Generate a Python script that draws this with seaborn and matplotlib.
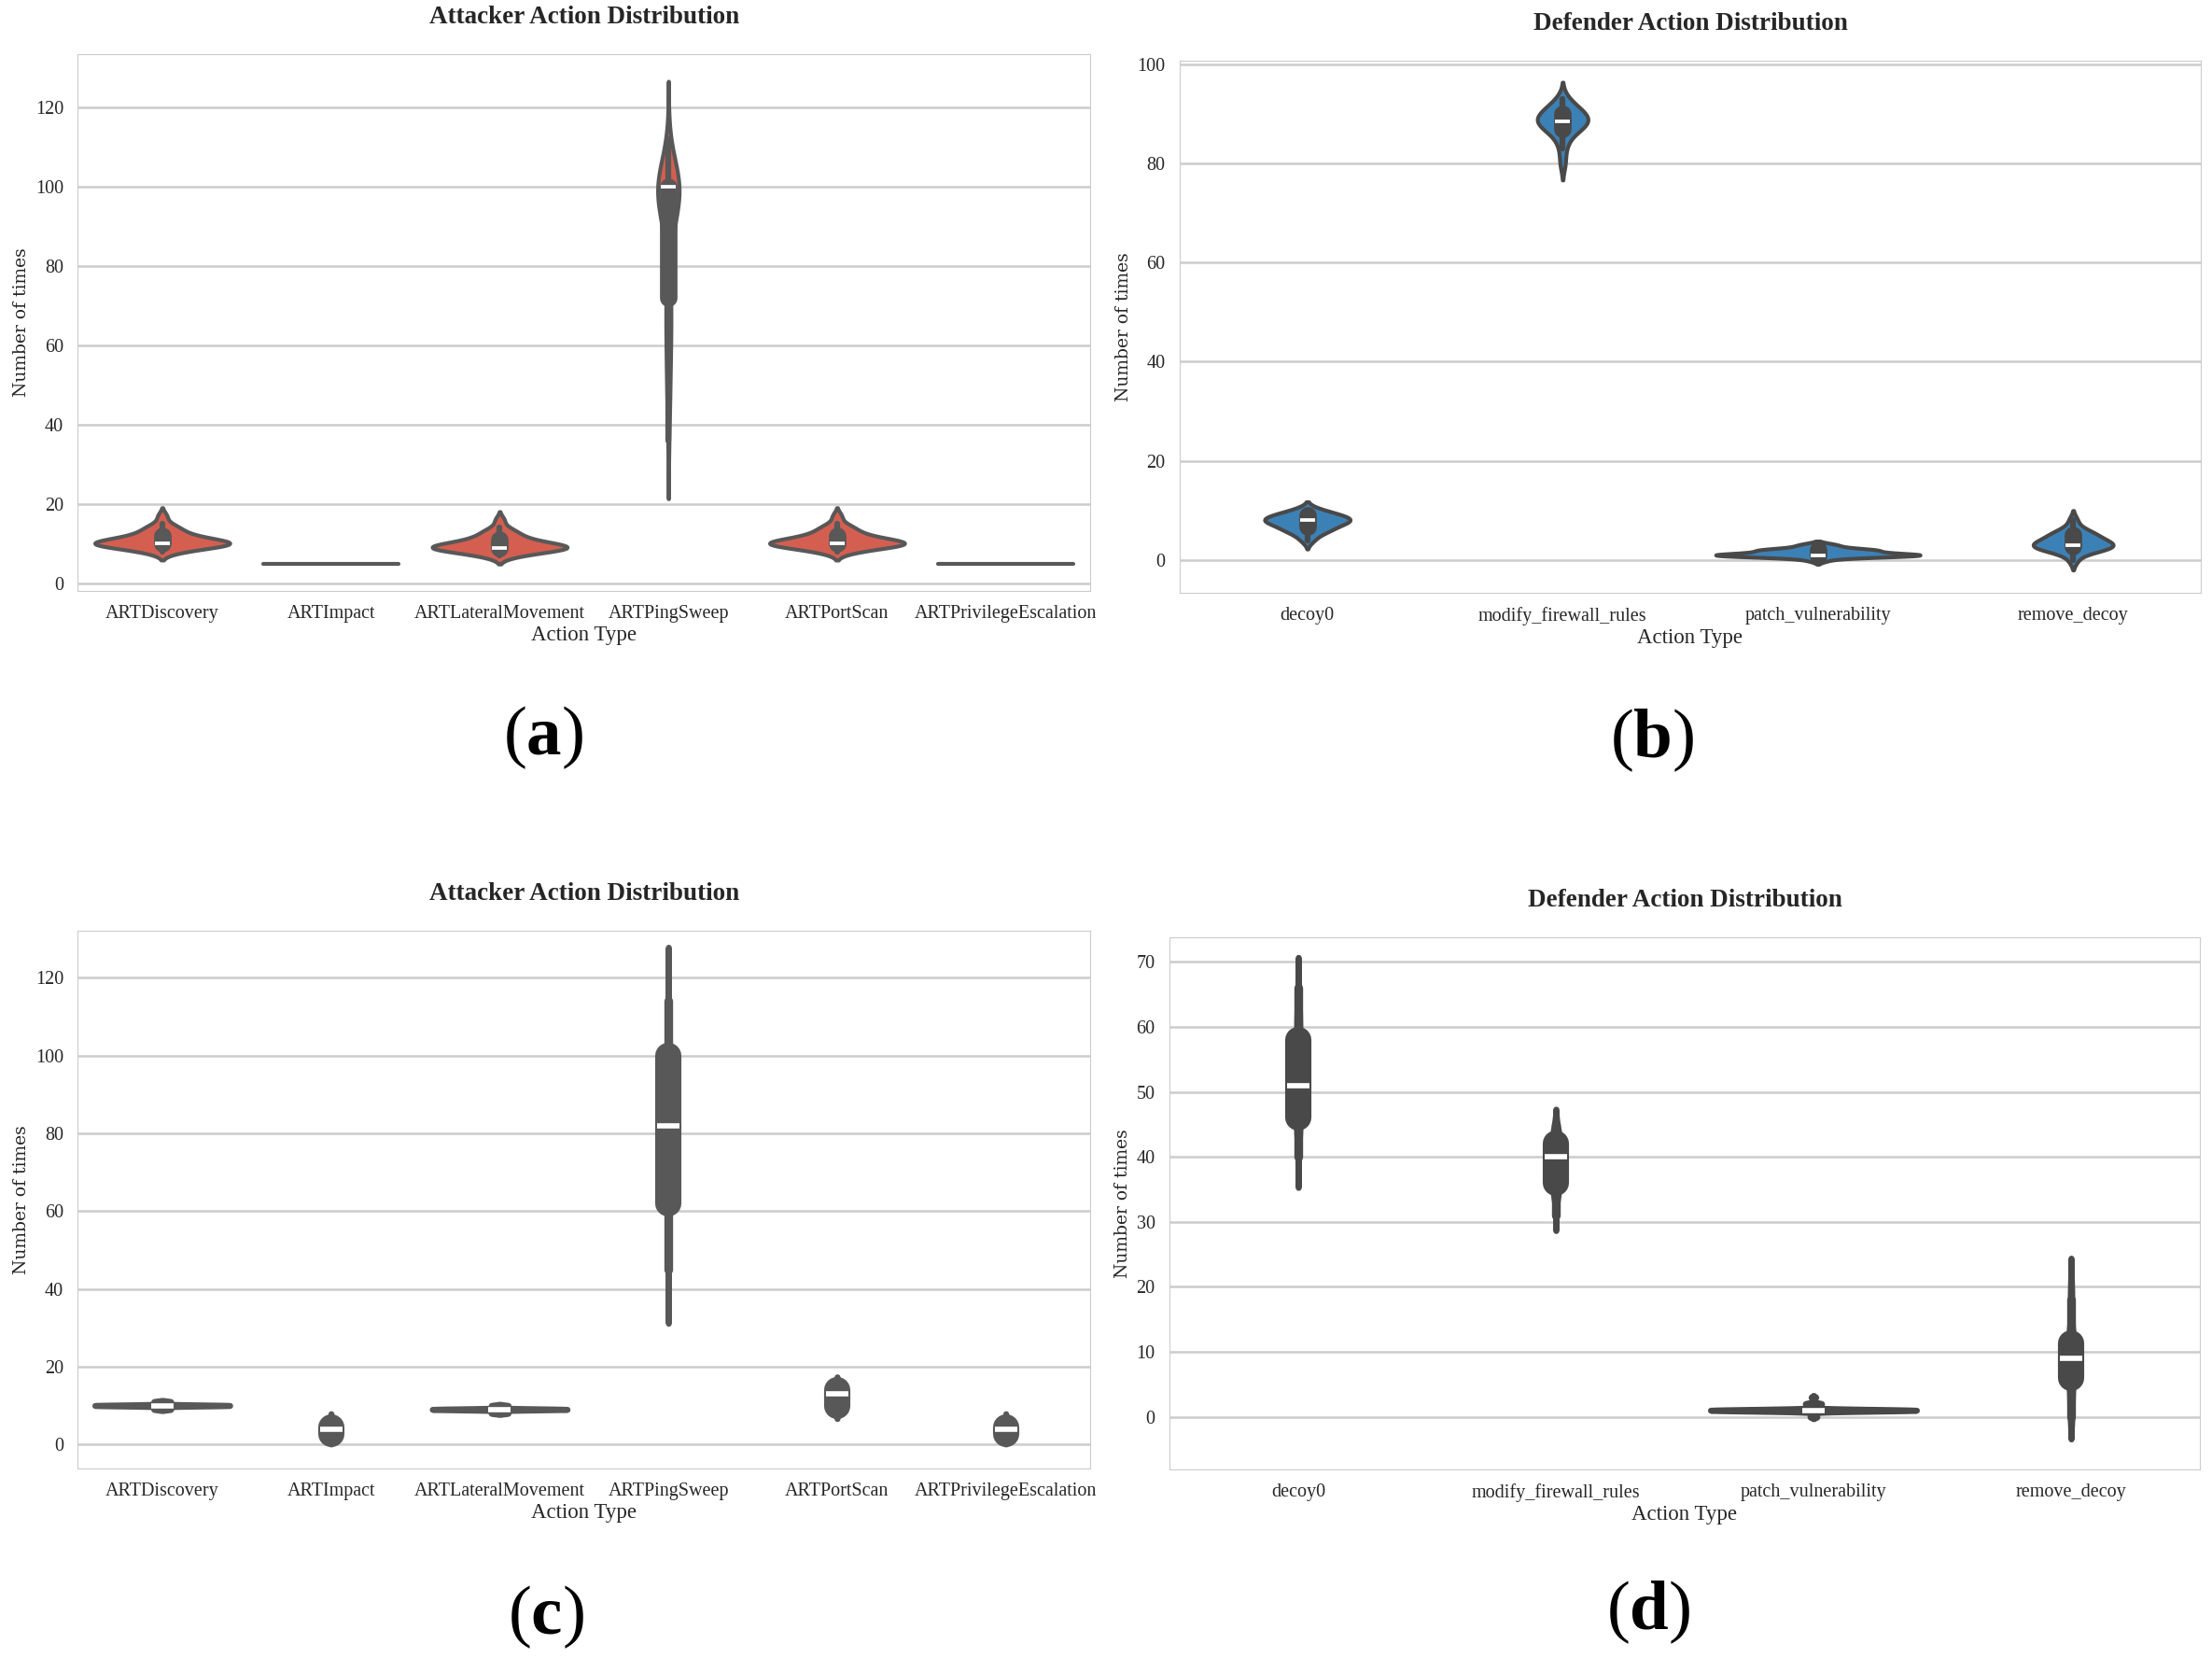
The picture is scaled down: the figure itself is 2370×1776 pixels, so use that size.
import numpy as np
import pandas as pd
import matplotlib
matplotlib.use("Agg")
import matplotlib.pyplot as plt
import seaborn as sns

# ---------------- categories ----------------
attacker_actions = ["ARTDiscovery", "ARTImpact", "ARTLateralMovement",
                    "ARTPingSweep", "ARTPortScan", "ARTPrivilegeEscalation"]
defender_actions = ["decoy0", "modify_firewall_rules",
                    "patch_vulnerability", "remove_decoy"]

# ---------------- panel (a): attacker, run 1 (value -> number of episodes) ----------------
a_discovery_vals = [8, 9, 10, 11, 12, 13, 14, 15, 17]
a_discovery_cnts = [2, 4, 10, 5, 3, 2, 2, 1, 1]
a_impact_vals = [5]
a_impact_cnts = [100]
a_lateral_vals = [7, 8, 9, 10, 11, 12, 13, 14, 16]
a_lateral_cnts = [2, 4, 10, 5, 3, 2, 2, 1, 1]
a_ping_vals = [36, 40, 44, 48, 52, 56, 60, 64, 68, 72, 80, 84, 88, 92, 96, 100, 104, 108, 112]
a_ping_cnts = [1, 1, 2, 2, 2, 3, 3, 3, 4, 5, 3, 3, 4, 5, 7, 49, 2, 1, 1]
a_portscan_vals = [8, 9, 10, 11, 12, 13, 14, 15, 17]
a_portscan_cnts = [2, 4, 10, 5, 3, 2, 2, 1, 1]
a_privesc_vals = [5]
a_privesc_cnts = [100]

# ---------------- panel (b): defender, run 1 ----------------
b_decoy_vals = [4, 5, 6, 7, 8, 9, 10]
b_decoy_cnts = [1, 1, 3, 3, 6, 4, 2]
b_firewall_vals = [80, 83, 85, 86, 87, 88, 89, 90, 91, 92, 93]
b_firewall_cnts = [1, 1, 1, 1, 2, 4, 3, 3, 2, 1, 1]
b_patch_vals = [0, 1, 2, 3]
b_patch_cnts = [1, 11, 6, 2]
b_remove_vals = [0, 2, 3, 4, 5, 6, 8]
b_remove_cnts = [1, 4, 6, 3, 3, 2, 1]

# ---------------- panel (c): attacker, run 2 ----------------
c_discovery_vals = [9, 10, 11]
c_discovery_cnts = [20, 160, 20]
c_impact_vals = [1, 2, 3, 4, 5, 6, 7]
c_impact_cnts = [10, 40, 40, 60, 40, 8, 2]
c_lateral_vals = [8, 9, 10]
c_lateral_cnts = [20, 160, 20]
c_ping_vals = [45, 50, 55, 60, 62, 65, 70, 75, 80, 82, 85, 90, 95, 100, 105, 110, 114]
c_ping_cnts = [4, 6, 12, 22, 10, 10, 10, 10, 10, 10, 12, 12, 12, 16, 20, 14, 10]
c_portscan_vals = [8, 9, 10, 11, 12, 13, 14, 15, 16]
c_portscan_cnts = [5, 15, 35, 20, 20, 45, 40, 15, 5]
c_privesc_vals = [1, 2, 3, 4, 5, 6, 7]
c_privesc_cnts = [10, 40, 40, 60, 40, 8, 2]

# ---------------- panel (d): defender, run 2 ----------------
d_decoy_vals = [40, 42, 44, 46, 48, 50, 52, 54, 56, 58, 60, 62, 64, 66]
d_decoy_cnts = [4, 8, 16, 24, 20, 28, 12, 14, 14, 14, 18, 14, 10, 4]
d_firewall_vals = [31, 33, 34, 35, 36, 37, 38, 39, 40, 41, 42, 43, 44, 45]
d_firewall_cnts = [2, 6, 10, 16, 20, 12, 12, 14, 20, 26, 24, 18, 12, 8]
d_patch_vals = [0, 1, 2, 3]
d_patch_cnts = [6, 176, 14, 4]
d_remove_vals = [0, 1, 2, 4, 5, 6, 7, 8, 9, 10, 11, 12, 14, 16, 18, 20, 21]
d_remove_cnts = [10, 6, 8, 10, 10, 10, 14, 16, 22, 20, 24, 14, 10, 9, 9, 5, 3]

# ---------------- labels ----------------
attacker_title = "Attacker Action Distribution"
defender_title = "Defender Action Distribution"
x_label = "Action Type"
y_label = "Number of times"
panel_tags = ["a", "b", "c", "d"]


def build(actions, vals_list, cnts_list):
    rows = []
    for act, vals, cnts in zip(actions, vals_list, cnts_list):
        obs = np.repeat(np.asarray(vals, float), cnts)
        rows.append(pd.DataFrame({x_label: act, y_label: obs}))
    return pd.concat(rows, ignore_index=True)


df_a = build(attacker_actions,
             [a_discovery_vals, a_impact_vals, a_lateral_vals, a_ping_vals, a_portscan_vals, a_privesc_vals],
             [a_discovery_cnts, a_impact_cnts, a_lateral_cnts, a_ping_cnts, a_portscan_cnts, a_privesc_cnts])
df_b = build(defender_actions,
             [b_decoy_vals, b_firewall_vals, b_patch_vals, b_remove_vals],
             [b_decoy_cnts, b_firewall_cnts, b_patch_cnts, b_remove_cnts])
df_c = build(attacker_actions,
             [c_discovery_vals, c_impact_vals, c_lateral_vals, c_ping_vals, c_portscan_vals, c_privesc_vals],
             [c_discovery_cnts, c_impact_cnts, c_lateral_cnts, c_ping_cnts, c_portscan_cnts, c_privesc_cnts])
df_d = build(defender_actions,
             [d_decoy_vals, d_firewall_vals, d_patch_vals, d_remove_vals],
             [d_decoy_cnts, d_firewall_cnts, d_patch_cnts, d_remove_cnts])

# ---------------- style ----------------
sns.set_theme(style="whitegrid")
plt.rcParams["font.family"] = ["Liberation Serif", "DejaVu Serif"]
plt.rcParams["mathtext.fontset"] = "custom"
plt.rcParams["mathtext.rm"] = "Liberation Serif"
plt.rcParams["mathtext.bf"] = "Liberation Serif:bold"

RED = "#d45f50"
BLUE = "#3c81b6"

fig = plt.figure(figsize=(23.7, 17.76), dpi=100)

axes_pos = [
    [0.03523, 0.64358, 0.45759, 0.32404],
    [0.53333, 0.64245, 0.46160, 0.32095],
    [0.03523, 0.11430, 0.45759, 0.32433],
    [0.52869, 0.11374, 0.46582, 0.32095],
]

panels = [
    (df_a, attacker_actions, RED, 3.0, (-1.9, 133.6), np.arange(0, 121, 20), attacker_title),
    (df_b, defender_actions, BLUE, 3.0, (-6.6, 100.7), np.arange(0, 101, 20), defender_title),
    (df_c, attacker_actions, RED, 4.5, (-6.2, 132.1), np.arange(0, 121, 20), attacker_title),
    (df_d, defender_actions, BLUE, 4.5, (-8.1, 73.8), np.arange(0, 71, 10), defender_title),
]

for pos, (df, order, color, lw, ylim, yticks, title) in zip(axes_pos, panels):
    ax = fig.add_axes(pos)
    nuniq = df.groupby(x_label)[y_label].nunique()
    varied = df[df[x_label].map(nuniq) > 1]
    constant = df[df[x_label].map(nuniq) <= 1]
    sns.violinplot(data=varied, x=x_label, y=y_label, order=order, color=color,
                   saturation=1, linewidth=lw, inner="box", ax=ax)
    if len(constant):
        # single-valued actions are drawn in their own call (seaborn shows them as a flat line)
        sns.violinplot(data=constant, x=x_label, y=y_label, order=order, color=color,
                       saturation=1, linewidth=lw, inner="box", ax=ax)
    for ln in ax.lines:
        ln.set_solid_capstyle("round")
    ax.set_ylim(*ylim)
    ax.set_yticks(yticks)
    ax.yaxis.grid(True, color="#cccccc", linewidth=1.8)
    ax.xaxis.grid(False)
    ax.set_axisbelow(True)
    for sp in ax.spines.values():
        sp.set_color("#cccccc")
        sp.set_linewidth(0.8)
    ax.tick_params(axis="both", labelsize=14.5, pad=5, colors="#262626")
    ax.set_xlabel(x_label, fontsize=16.5, labelpad=2, color="#262626")
    ax.set_ylabel(y_label, fontsize=13.5, labelpad=4, color="#262626",
                  fontfamily=["DejaVu Serif"])
    ax.set_title(title, fontsize=19.5, fontweight="bold", pad=23.6, color="#262626")

tag_pos = [(0.2456, 0.5552), (0.7468, 0.5535), (0.2468, 0.0248), (0.7451, 0.0276)]
for tag, (tx, ty) in zip(panel_tags, tag_pos):
    fig.text(tx, ty, "($\\mathbf{" + tag + "}$)", fontsize=54, ha="center", va="center",
             color="black")

fig.savefig("out.png", dpi=100)
